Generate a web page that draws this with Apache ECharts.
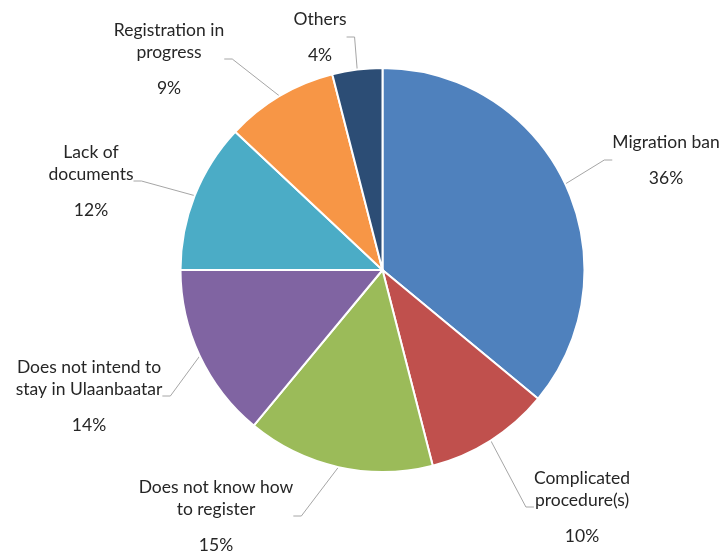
<!DOCTYPE html>
<html>
<head>
<meta charset="utf-8">
<script src="https://cdn.jsdelivr.net/npm/echarts@6/dist/echarts.min.js"></script>
<style>
  html, body { margin: 0; padding: 0; background: #fff; }
  #chart { width: 721px; height: 553px; }
</style>
</head>
<body>
<div id="chart"></div>
<script>
// Reasons for not registering (share of respondents, %)
const categories = [
  'Migration ban',
  'Complicated\nprocedure(s)',
  'Does not know how\nto register',
  'Does not intend to\nstay in Ulaanbaatar',
  'Lack of\ndocuments',
  'Registration in\nprogress',
  'Others'
];
const shares = [36, 10, 15, 14, 12, 9, 4];
const colors = ['#4F81BD', '#C0504D', '#9BBB59', '#8064A2', '#4BACC6', '#F79646', '#2C4D75'];

// Where each label block sits (top-centre of the text block)
const labelSpots = [
  [666, 131], [582, 467], [216, 476], [89, 356], [91, 141], [169, 19], [320, 8]
];

const chart = echarts.init(document.getElementById('chart'), null, { renderer: 'canvas' });

chart.setOption({
  animation: false,
  backgroundColor: '#ffffff',
  series: [{
    type: 'pie',
    center: [382.5, 270],
    radius: [0, 202],
    startAngle: 90,
    clockwise: true,
    data: categories.map((name, i) => ({
      name: name,
      value: shares[i],
      itemStyle: { color: colors[i] }
    })),
    itemStyle: { borderColor: '#ffffff', borderWidth: 2 },
    label: {
      show: true,
      color: '#262626',
      fontFamily: 'Lato',
      fontSize: 17.5,
      lineHeight: 22,
      align: 'center',
      formatter: p => {
        const lines = p.name.split('\n').map(s => '{n|' + s + '}').join('\n');
        return lines + '\n{g| }\n{n|' + p.value + '%}';
      },
      rich: {
        n: { fontFamily: 'Lato', fontSize: 17.5, lineHeight: 22, color: '#262626', align: 'center' },
        g: { fontSize: 4, lineHeight: 14 }
      }
    },
    labelLine: {
      show: true,
      length: 15,
      length2: 8,
      lineStyle: { color: '#A6A6A6', width: 1 }
    },
    labelLayout: p => ({
      x: labelSpots[p.dataIndex][0],
      y: labelSpots[p.dataIndex][1],
      align: 'center',
      verticalAlign: 'top'
    })
  }]
});
</script>
</body>
</html>
